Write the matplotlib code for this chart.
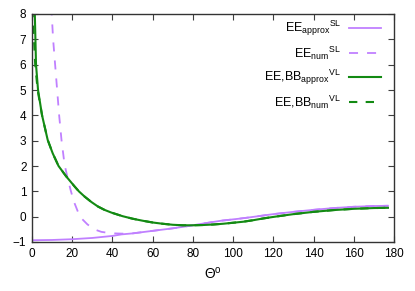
import matplotlib
matplotlib.use("Agg")
import matplotlib.pyplot as plt

# --- data ---
theta_ee_approx = [0, 10, 20, 30, 40, 44.5, 50, 55, 61, 70, 77.7, 86, 94, 103, 108,
                   120, 130, 140, 150, 160, 170, 177]
ee_approx_sl = [-0.93, -0.92, -0.89, -0.84, -0.76, -0.70, -0.66, -0.61, -0.55, -0.46,
                -0.37, -0.26, -0.16, -0.08, -0.03, 0.10, 0.19, 0.27, 0.34, 0.39, 0.42, 0.43]

theta_ee_num = [9.6, 9.8, 10.5, 11.5, 12.5, 13.5, 14.7, 16.2, 17.5, 19.2, 20.8, 22.8, 25,
                27.5, 29.5, 32, 34.5, 38, 41, 45, 50, 55, 61, 70, 77.7, 86, 94, 103, 108,
                120, 130, 140, 150, 160, 170, 177]
ee_num_sl = [8.3, 8.0, 7.0, 6.0, 5.0, 4.0, 3.0, 2.05, 1.6, 1.05, 0.6, 0.2, -0.1,
             -0.3, -0.42, -0.53, -0.6, -0.64, -0.66, -0.67, -0.66, -0.61, -0.55, -0.46,
             -0.37, -0.26, -0.16, -0.08, -0.03, 0.10, 0.19, 0.27, 0.34, 0.39, 0.42, 0.43]

theta_vl_approx = [1.3, 1.4, 1.7, 2.0, 3.0, 5.0, 7.8, 10.3, 13.2, 17, 21.2, 23.3, 26.2,
                   29.5, 32.8, 36, 39.5, 45, 50, 55, 60, 65, 70, 75, 80, 85, 90, 95, 100,
                   105, 110, 115, 120, 130, 140, 150, 160, 170, 177]
eebb_approx_vl = [8.5, 8.0, 7.0, 6.0, 5.0, 4.0, 3.03, 2.5, 2.0, 1.59, 1.19, 1.0, 0.79,
                  0.58, 0.4, 0.27, 0.16, 0.02, -0.08, -0.16, -0.23, -0.28, -0.32, -0.34,
                  -0.34, -0.33, -0.31, -0.28, -0.24, -0.2, -0.14, -0.07, -0.01, 0.1, 0.19,
                  0.26, 0.31, 0.34, 0.35]

theta_vl_num = [0.2, 0.3, 0.6, 1.0, 1.6, 2.8, 5.0, 7.8, 10.3, 13.2, 17, 21.2, 23.3, 26.2,
                29.5, 32.8, 36, 39.5, 45, 50, 55, 60, 65, 70, 75, 80, 85, 90, 95, 100,
                105, 110, 115, 120, 130, 140, 150, 160, 170, 177]
eebb_num_vl = [8.2, 8.0, 7.5, 7.0, 6.0, 5.0, 4.0, 3.03, 2.5, 2.0, 1.59, 1.19, 1.0, 0.79,
               0.58, 0.4, 0.27, 0.16, 0.02, -0.08, -0.16, -0.23, -0.28, -0.32, -0.34,
               -0.34, -0.33, -0.31, -0.28, -0.24, -0.2, -0.14, -0.07, -0.01, 0.1, 0.19,
               0.26, 0.31, 0.34, 0.35]

x_ticks = [0, 20, 40, 60, 80, 100, 120, 140, 160, 180]
y_ticks = [-1, 0, 1, 2, 3, 4, 5, 6, 7, 8]

labels = [r'EE$_{\rm approx}{}^{\rm SL}$', r'EE$_{\rm num}{}^{\rm SL}$',
          r'EE,BB$_{\rm approx}{}^{\rm VL}$', r'EE,BB$_{\rm num}{}^{\rm VL}$']

plt.rcParams['font.family'] = ['Liberation Sans', 'DejaVu Sans']
plt.rcParams['mathtext.fontset'] = 'custom'
plt.rcParams['mathtext.rm'] = 'Liberation Sans'
plt.rcParams['mathtext.it'] = 'Liberation Sans:italic'
plt.rcParams['mathtext.bf'] = 'Liberation Sans:bold'

purple = '#c080ff'
green = '#138a13'

fig = plt.figure(figsize=(4.15, 2.91), dpi=100)
ax = fig.add_axes([32 / 415, 1 - 242 / 291, (394 - 32) / 415, (242 - 14) / 291])

ax.plot(theta_ee_approx, ee_approx_sl, color=purple, lw=1.3, label=labels[0])
ax.plot(theta_ee_num, ee_num_sl, color=purple, lw=1.3, ls=(0, (5, 5)), label=labels[1])
ax.plot(theta_vl_approx, eebb_approx_vl, color=green, lw=1.5, label=labels[2])
ax.plot(theta_vl_num, eebb_num_vl, color=green, lw=1.5, ls=(0, (4, 4)), label=labels[3])

ax.set_xlim(0, 180)
ax.set_ylim(-1, 8)
ax.set_xticks(x_ticks)
ax.set_yticks(y_ticks)
ax.tick_params(direction='in', top=True, right=True, length=4, width=0.8,
               labelsize=8.5, pad=4, color='#404040')
for s in ax.spines.values():
    s.set_color('#333333')
    s.set_linewidth(1.0)

ax.set_xlabel(r'$\Theta^{\rm o}$', fontsize=10, labelpad=4)

leg = ax.legend(loc='upper right', frameon=False, markerfirst=False, fontsize=9,
                handlelength=2.6, handletextpad=0.6, labelspacing=0.5,
                borderaxespad=0, borderpad=0,
                bbox_to_anchor=(381 / 415, 1 - 19 / 291), bbox_transform=fig.transFigure)

fig.savefig('out.png', dpi=100)
